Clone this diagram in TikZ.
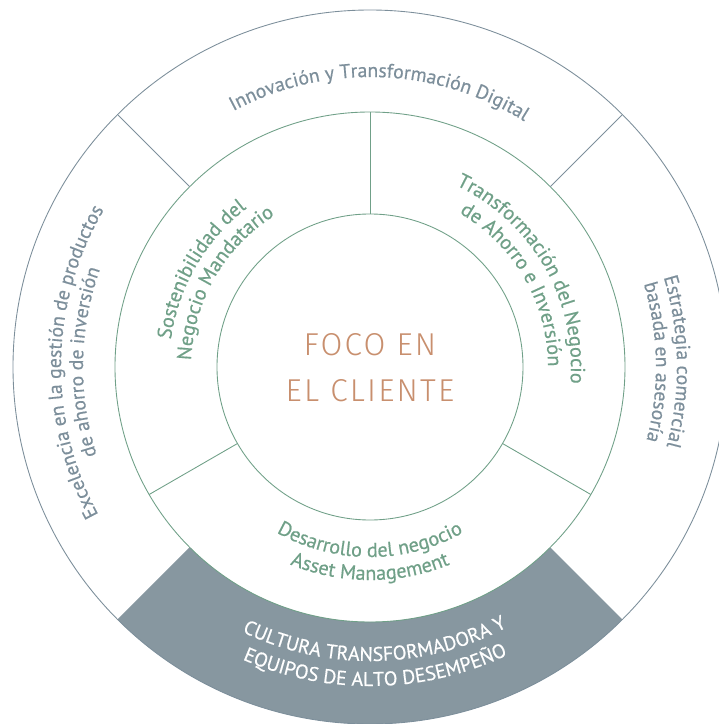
\documentclass[tikz,border=0pt]{standalone}
\usepackage{fontspec}
\usetikzlibrary{decorations.text}
\newfontfamily\ringfont[FakeBold=0.5]{PT Sans}
\newfontfamily\focofont[LetterSpace=7]{Fira Sans Light}
\definecolor{slate}{RGB}{125,143,155}
\definecolor{band}{RGB}{135,151,160}
\definecolor{sage}{RGB}{112,160,136}
\definecolor{clay}{RGB}{200,143,110}
\newcommand\slatetext{\ringfont\fontsize{11.2}{13}\selectfont\color{slate}}
\newcommand\sagetext{\ringfont\fontsize{11.5}{13}\selectfont\color{sage}}
\newcommand\bandtext{\ringfont\fontsize{11.3}{13}\selectfont\color{white}}
\tikzset{
  outerline/.style={draw=slate, line width=0.5pt},
  innerline/.style={draw=sage, line width=0.5pt},
  arctext/.style={decorate, decoration={text along path, text align=center, text={#1}}},
}
\begin{document}
\begin{tikzpicture} [x=0.02cm, y=0.02cm]
	\useasboundingbox (-370,-357) rectangle (349,367);
	\clip (-370,-357) rectangle (349,367);
	% gray band at the bottom
	\fill [band] (225:255) arc (225:315:255) -- (315:357) arc (315:225:357) -- cycle;
	\draw [outerline] (0,0) circle (357);
	\draw [innerline] (0,0) circle (255);
	\draw [innerline] (0,0) circle (153);
	\foreach \a in {45, 135} \draw [outerline] (\a:255) -- (\a:357);
	\foreach \a in {90, 210, 330} \draw [innerline] (\a:153) -- (\a:255);
	% outer ring
	\path [arctext={|\slatetext|Innovación y Transformación Digital}] (133:290) arc (133:43:290);
	\path [arctext={|\slatetext|Excelencia en la gestión de productos}] (224:309) arc (224:134:309);
	\path [arctext={|\slatetext|de ahorro de inversión}] (224:287) arc (224:134:287);
	\path [arctext={|\slatetext|Estrategia comercial}] (46:307) arc (46:-44:307);
	\path [arctext={|\slatetext|basada en asesoría}] (46:286) arc (46:-44:286);
	\path [arctext={|\bandtext|CULTURA TRANSFORMADORA Y}] (226:294) arc (226:316:294);
	\path [arctext={|\bandtext|EQUIPOS DE ALTO DESEMPEÑO}] (226:319) arc (226:316:319);
	% middle ring
	\path [arctext={|\sagetext|Sostenibilidad del}] (210:201) arc (210:90:201);
	\path [arctext={|\sagetext|Negocio Mandatario}] (210:179) arc (210:90:179);
	\path [arctext={|\sagetext|Transformación del Negocio}] (90:201) arc (90:-30:201);
	\path [arctext={|\sagetext|de Ahorro e Inversión}] (90:178) arc (90:-30:178);
	\path [arctext={|\sagetext|Desarrollo del negocio}] (210:190) arc (210:330:190);
	\path [arctext={|\sagetext|Asset Management}] (210:213) arc (210:330:213);
	% centre
	\node [anchor=base, text=clay, font=\focofont\fontsize{18}{20}\selectfont] (foco) at (0,12) {FOCO EN};
	\node [anchor=base, text=clay, font=\focofont\fontsize{18}{20}\selectfont] (cliente) at (0,-34) {EL CLIENTE};
\end{tikzpicture}
\end{document}
